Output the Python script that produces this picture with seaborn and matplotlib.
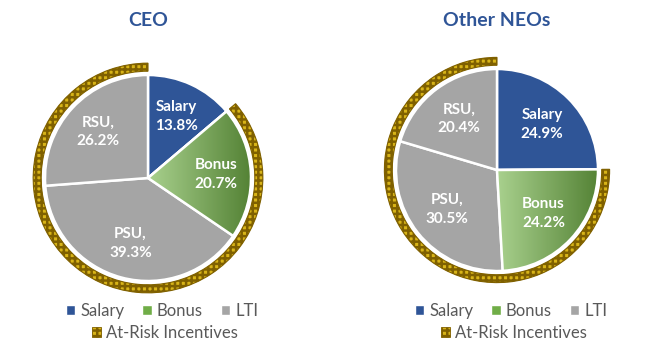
import numpy as np
import matplotlib
matplotlib.use("Agg")
import matplotlib.pyplot as plt
from matplotlib.patches import Patch, Wedge
from matplotlib.colors import LinearSegmentedColormap
import seaborn as sns

sns.set_theme(style="white")
plt.rcParams["font.family"] = ["Lato", "DejaVu Sans"]
plt.rcParams["hatch.linewidth"] = 1.8

# Pay mix data
components = ["Salary", "Bonus", "PSU", "RSU"]
ceo_values = [13.8, 20.7, 39.3, 26.2]
neo_values = [24.9, 24.2, 30.5, 20.4]
panel_titles = ["CEO", "Other NEOs"]
legend_labels = ["Salary", "Bonus", "LTI"]
risk_label = "At-Risk Incentives"
label_sep = {"Salary": "", "Bonus": "", "PSU": ",", "RSU": ","}

blue = "#2F5597"
green_light = "#A9D18E"
green_dark = "#548235"
gray = "#A5A5A5"
gold = "#D8B418"
olive = "#7F6000"
palette = sns.color_palette([blue, green_light, gray, gray])

W, H = 650, 349
fig = plt.figure(figsize=(W / 100, H / 100), dpi=100)

# (center x, center y, radius, label distance) in pixels for each panel
layouts = [(148, 178, 103, 0.66), (497, 170, 101, 0.63)]
green_cmap = LinearSegmentedColormap.from_list("bonus", [green_light, green_dark])

for values, title, (cx, cy, r, ldist) in zip([ceo_values, neo_values], panel_titles, layouts):
    L = 1.32
    side = 2 * L * r
    ax = fig.add_axes([(cx - side / 2) / W, (H - cy - side / 2) / H, side / W, side / H])

    wedges, _ = ax.pie(values, colors=palette, startangle=90, counterclock=False,
                       radius=1.0, wedgeprops=dict(edgecolor="white", linewidth=1.8))

    # gradient fill on the bonus wedge
    bw = wedges[1]
    ext = bw.get_path().get_extents()
    grad = np.linspace(0, 1, 256).reshape(1, -1)
    im = ax.imshow(grad, cmap=green_cmap, extent=[ext.x0, ext.x1, ext.y0, ext.y1],
                   aspect="auto", zorder=bw.get_zorder() + 0.1)
    im.set_clip_path(bw)
    ax.add_patch(Wedge(bw.center, bw.r, bw.theta1, bw.theta2, facecolor="none",
                       edgecolor="white", linewidth=1.8, zorder=bw.get_zorder() + 0.2))

    # outer ring marking the at-risk portion (everything but salary)
    at_risk = sum(values[1:])
    ring, _ = ax.pie([values[0], at_risk], startangle=90, counterclock=False,
                     radius=1.115, colors=["none", gold],
                     wedgeprops=dict(width=0.078, linewidth=0.8))
    ring[0].set_visible(False)
    ring[1].set_edgecolor(olive)
    ring[1].set_hatch("+++")

    ax.set_xlim(-L, L)
    ax.set_ylim(-L, L)
    ax.set_aspect("equal")
    ax.axis("off")

    # slice labels
    for w, name, v in zip(wedges, components, values):
        ang = np.deg2rad((w.theta1 + w.theta2) / 2)
        ax.text(ldist * np.cos(ang), ldist * np.sin(ang),
                f"{name}{label_sep[name]}\n{v:.1f}%", ha="center", va="center",
                color="white", fontsize=11, fontweight="bold", linespacing=1.45,
                zorder=10)

    fig.text(cx / W, 1 - 20 / H, title, ha="center", va="center",
             color=blue, fontsize=14, fontweight="bold")

    handles = [Patch(facecolor=c) for c in [blue, "#70AD47", gray]]
    fig.legend(handles, legend_labels, loc="center",
               bbox_to_anchor=((cx + 14) / W, 1 - 311 / H), ncol=3, frameon=False,
               fontsize=12, handlelength=0.55, handleheight=0.55,
               handletextpad=0.3, columnspacing=1.1, labelcolor="#595959",
               borderpad=0, borderaxespad=0)
    rh = Patch(facecolor=gold, edgecolor=olive, hatch="+++", linewidth=0.6)
    fig.legend([rh], [risk_label], loc="center",
               bbox_to_anchor=((cx + 17) / W, 1 - 333 / H), frameon=False,
               fontsize=12, handlelength=0.55, handleheight=0.55,
               handletextpad=0.3, labelcolor="#595959",
               borderpad=0, borderaxespad=0)

fig.savefig("out.png", dpi=100, facecolor="white")
